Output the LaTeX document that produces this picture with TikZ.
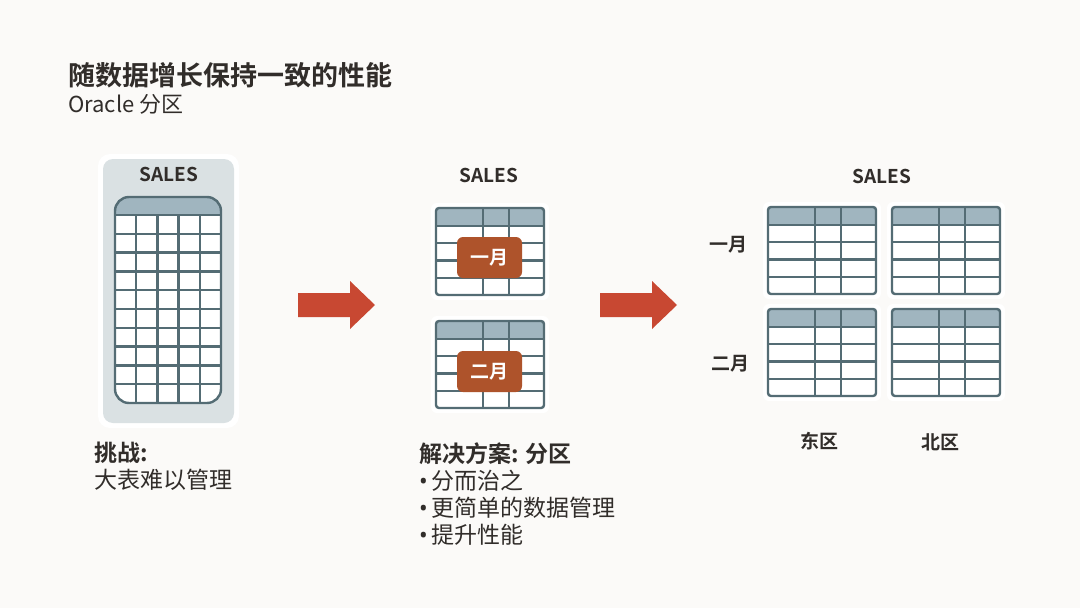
\documentclass[tikz,border=0pt]{standalone}
\usepackage{fontspec}
\setmainfont{Noto Sans CJK SC}[BoldFont={Noto Sans CJK SC Bold}]
\newfontfamily\bulletfont{Noto Sans}
\usetikzlibrary{positioning}

\definecolor{bgpaper}{RGB}{251,250,248}
\definecolor{inkdark}{RGB}{49,45,42}
\definecolor{gridline}{RGB}{84,108,116}
\definecolor{hdrfill}{RGB}{160,181,191}
\definecolor{panelgray}{RGB}{218,225,227}
\definecolor{monthbox}{RGB}{174,83,43}
\definecolor{arrowred}{RGB}{200,72,50}

\newcommand{\itm}{{\bulletfont •}\,}

\begin{document}
\begin{tikzpicture}[x=1pt, y=-1pt,
        % STYLES
        heading/.style={font=\bfseries\fontsize{27}{32}\selectfont, text=inkdark, inner sep=0, anchor=west},
        subheading/.style={font=\fontsize{22}{26}\selectfont, text=inkdark, inner sep=0, anchor=west},
        tablename/.style={font=\bfseries\fontsize{19}{22}\selectfont, text=inkdark, inner sep=0},
        rowlabel/.style={font=\bfseries\fontsize{19}{22}\selectfont, text=inkdark, inner sep=0},
        monthtag/.style={fill=monthbox, rounded corners=6pt, text=white, font=\bfseries\fontsize{19}{22}\selectfont, minimum width=65pt, minimum height=41pt, inner sep=0},
        caption/.style={font=\fontsize{23}{27}\selectfont, text=inkdark, inner sep=0, anchor=north west, align=left},
        gridstroke/.style={draw=gridline, line width=2.4pt},
        blockarrow/.style={fill=arrowred},
        % TABLES
        parttable/.pic={
            \fill[white, rounded corners=6pt] (-5,-5) rectangle (113,92);
            \fill[white, rounded corners=3pt] (0,0) rectangle (108,87);
            \begin{scope}
                \clip[rounded corners=3pt] (0,0) rectangle (108,87);
                \fill[hdrfill] (0,0) rectangle (108,18);
            \end{scope}
            \foreach \r in {18,35.25,52.5,69.75} \draw[gridstroke] (0,\r) -- (108,\r);
            \draw[gridstroke] (47,0) -- (47,87) (73,0) -- (73,87);
            \draw[gridstroke, rounded corners=3pt] (0,0) rectangle (108,87);
        }
    ]
    \useasboundingbox[fill=bgpaper] (0,0) rectangle (1080,608);

    % ===================================
    % 1. Title
    % ===================================
    \node[heading] (ttl) at (68,75) {随数据增长保持一致的性能};
    \node[subheading] (sub) at (68,104) {Oracle 分区};

    % ===================================
    % 2. One big table
    % ===================================
    \fill[white, rounded corners=12pt] (98,154) rectangle (239,428);
    \fill[panelgray, rounded corners=10pt] (103,159) rectangle (234,423);
    \node[tablename] (salesA) at (169,174) {SALES};
    \fill[white, rounded corners=14pt] (115,197) rectangle (221,403);
    \begin{scope}
        \clip[rounded corners=14pt] (115,197) rectangle (221,403);
        \fill[hdrfill] (115,197) rectangle (221,215);
    \end{scope}
    \foreach \k in {0,...,9} \draw[gridstroke] (115,215+18.8*\k) -- (221,215+18.8*\k);
    \foreach \k in {1,...,4} \draw[gridstroke] (115+21.2*\k,215) -- (115+21.2*\k,403);
    \draw[gridstroke, rounded corners=14pt] (115,197) rectangle (221,403);

    \node[caption] (chal) at (94,442) {\textbf{挑战:}\\大表难以管理};

    % --- arrow ---
    \fill[blockarrow] (298,293) -- (350,293) -- (350,281) -- (375,305) -- (350,329) -- (350,317) -- (298,317) -- cycle;

    % ===================================
    % 3. Partitioned by month
    % ===================================
    \node[tablename] (salesB) at (489,175) {SALES};
    \pic at (436,208) {parttable};
    \pic at (436,321) {parttable};
    \node[monthtag] (jan) at (489.5,257.5) {一月};
    \node[monthtag] (feb) at (489.5,371.5) {二月};

    \node[caption] (sol) at (419,442) {\textbf{解决方案: 分区}\\\itm 分而治之\\\itm 更简单的数据管理\\\itm 提升性能};

    % --- arrow ---
    \fill[blockarrow] (600,293) -- (652,293) -- (652,281) -- (677,305) -- (652,329) -- (652,317) -- (600,317) -- cycle;

    % ===================================
    % 4. Partitioned by month and region
    % ===================================
    \node[tablename] (salesC) at (882,176) {SALES};
    \pic at (768,207) {parttable};
    \pic at (892,207) {parttable};
    \pic at (768,309) {parttable};
    \pic at (892,309) {parttable};
    \node[rowlabel] (rjan) at (728,245) {一月};
    \node[rowlabel] (rfeb) at (730,364) {二月};
    \node[rowlabel] (east) at (819,441) {东区};
    \node[rowlabel] (north) at (940,442) {北区};

\end{tikzpicture}
\end{document}
